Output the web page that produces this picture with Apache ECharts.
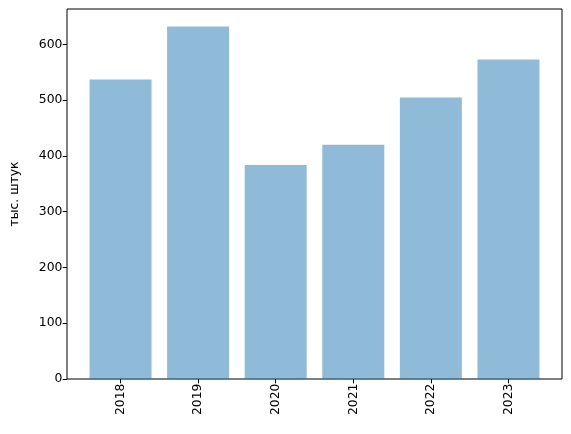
<!DOCTYPE html>
<html>
<head>
<meta charset="utf-8">
<script src="https://cdn.jsdelivr.net/npm/echarts@6/dist/echarts.min.js"></script>
<style>html,body{margin:0;padding:0;background:#fff}#c{width:571px;height:434px}</style>
</head>
<body>
<div id="c"></div>
<script>
const years = ['2018', '2019', '2020', '2021', '2022', '2023'];
const values = [537, 632, 384, 420, 505, 573];
const yTicks = [0, 100, 200, 300, 400, 500, 600];
const yLabel = 'тыс. штук';

const positions = years.map((_, i) => i);
const font = 'DejaVu Sans';
const chart = echarts.init(document.getElementById('c'), null, {renderer: 'canvas'});
chart.setOption({
  animation: false,
  backgroundColor: '#fff',
  grid: {left: 67, right: 9, top: 9, bottom: 55, show: true, borderColor: '#000', borderWidth: 1, backgroundColor: 'transparent'},
  xAxis: {
    type: 'value',
    min: -0.69,
    max: years.length - 1 + 0.69,
    splitLine: {show: false},
    axisLine: {show: false, onZero: false},
    axisTick: {show: true, length: 4.3, lineStyle: {color: '#000', width: 1}, customValues: positions},
    axisLabel: {
      customValues: positions,
      rotate: 90, margin: 4.5,
      color: '#000', fontFamily: font, fontSize: 12.4,
      formatter: v => years[Math.round(v)] || ''
    }
  },
  yAxis: {
    type: 'value',
    min: 0,
    max: Math.max(...values) * 1.05,
    splitLine: {show: false},
    axisLine: {show: false, onZero: false},
    axisTick: {show: true, length: 4.3, lineStyle: {color: '#000', width: 1}, customValues: yTicks},
    axisLabel: {customValues: yTicks, margin: 4.5, color: '#000', fontFamily: font, fontSize: 12.4},
    name: yLabel,
    nameLocation: 'middle',
    nameRotate: 90,
    nameGap: 46,
    nameTextStyle: {color: '#000', fontFamily: font, fontSize: 12.4}
  },
  series: [{
    type: 'bar',
    data: positions.map((p, i) => [p, values[i]]),
    barWidth: 62,
    itemStyle: {color: '#1f77b4', opacity: 0.5}
  }]
});
</script>
</body>
</html>
